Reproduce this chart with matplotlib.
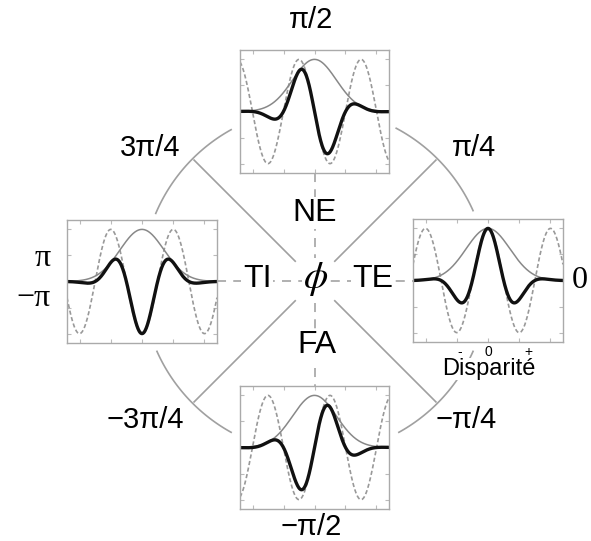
import numpy as np
import matplotlib.pyplot as plt

# phase of each receptive field (radians) and where its box sits
box_names = ['top', 'left', 'right', 'bottom']
box_phases = [np.pi / 2, np.pi, 0.0, -np.pi / 2]
# box rectangles in pixels: left, top, width, height
box_rects = [(240, 50, 149, 123), (67, 220, 150, 123),
             (413, 219, 150, 123), (240, 386, 149, 123)]

# gabor parameters (x in box half-widths)
carrier_freq = 7.54      # rad per unit
envelope_sigma = 0.293
x_ticks = [-0.83, -0.41, 0, 0.41, 0.83]
y_ticks = [-1, -0.5, 0, 0.5, 1]

# phase labels around the circle
phase_labels = ['\u03c0/2', '3\u03c0/4', '\u03c0/4', '\u22123\u03c0/4', '\u2212\u03c0/4', '\u2212\u03c0/2']
phase_label_pos = [(311, 20), (150, 148), (474, 148), (145, 420), (466, 420), (311, 527)]

W, H = 591, 541
cx, cy = 315, 281
R = 173

fig = plt.figure(figsize=(W / 100, H / 100), dpi=100)
ax0 = fig.add_axes([0, 0, 1, 1])
ax0.set_xlim(0, W)
ax0.set_ylim(H, 0)
ax0.axis('off')

gray = '#a0a0a0'

# arcs between the boxes
for a0, a1 in [(24, 62), (119, 157), (204, 241), (299, 336)]:
    t = np.radians(np.linspace(a0, a1, 80))
    ax0.plot(cx + R * np.cos(t), cy - R * np.sin(t), color=gray, lw=1.2)

# diagonal spokes
for a in [45, 135, 225, 315]:
    t = np.radians(a)
    r = np.array([28, 171])
    ax0.plot(cx + r * np.cos(t), cy - r * np.sin(t), color=gray, lw=1.2)

# dashed axes joining the boxes
ax0.plot([217, 413], [cy, cy], color='#aaaaaa', lw=1.3, ls=(0, (5, 4)))
ax0.plot([cx, cx], [173, 386], color='#aaaaaa', lw=1.3, ls=(0, (5, 4)))

wbox = dict(fc='white', ec='none', pad=1)
for txt, (x, y) in [('NE', (315, 213)), ('FA', (317, 345)),
                    ('TI', (257, 279)), ('TE', (373, 279))]:
    ax0.text(x, y, txt, fontsize=23, family='Liberation Sans',
             ha='center', va='center', bbox=wbox)
ax0.text(316, 279, r'$\phi$', fontsize=28, math_fontfamily='stix',
         ha='center', va='center', bbox=wbox)

for txt, (x, y) in zip(phase_labels, phase_label_pos):
    ax0.text(x, y, txt, fontsize=21, family='Liberation Sans',
             ha='center', va='center')
ax0.text(43, 258, '\u03c0', fontsize=23, family='Liberation Serif', ha='center', va='center')
ax0.text(33, 298, '\u2212\u03c0', fontsize=23, family='Liberation Serif', ha='center', va='center')
ax0.text(580, 281, '0', fontsize=23, family='Liberation Serif', ha='center', va='center')

# disparity axis labels under the right box
ax0.text(489, 369, 'Disparit\u00e9', fontsize=17, family='Liberation Sans',
         ha='center', va='center', bbox=dict(fc='white', ec='none', pad=0))
for txt, x in [('-', 460), ('0', 488), ('+', 528)]:
    ax0.text(x, 352, txt, fontsize=10, family='Liberation Sans',
             ha='center', va='center')

x = np.linspace(-1, 1, 400)
envelope = np.exp(-x ** 2 / (2 * envelope_sigma ** 2))

for name, phase, (left, top, w, h) in zip(box_names, box_phases, box_rects):
    ax = fig.add_axes([left / W, 1 - (top + h) / H, w / W, h / H])
    carrier = np.cos(carrier_freq * x + phase)
    ax.plot(x, carrier, color='#999999', lw=1.2, ls=(0, (2.5, 1.5)))
    ax.plot(x, envelope, color='#888888', lw=1.1)
    ax.plot(x, envelope * carrier, color='#111111', lw=2.4)
    ax.set_xlim(-1, 1)
    ax.set_ylim(-1.18, 1.18)
    ax.set_xticks(x_ticks)
    ax.set_yticks(y_ticks)
    ax.set_xticklabels([])
    ax.set_yticklabels([])
    ax.tick_params(direction='in', length=3, color='#bbbbbb',
                   top=True, right=True)
    for s in ax.spines.values():
        s.set_color('#aaaaaa')
        s.set_linewidth(1.0)

fig.savefig('out.png', dpi=100)
